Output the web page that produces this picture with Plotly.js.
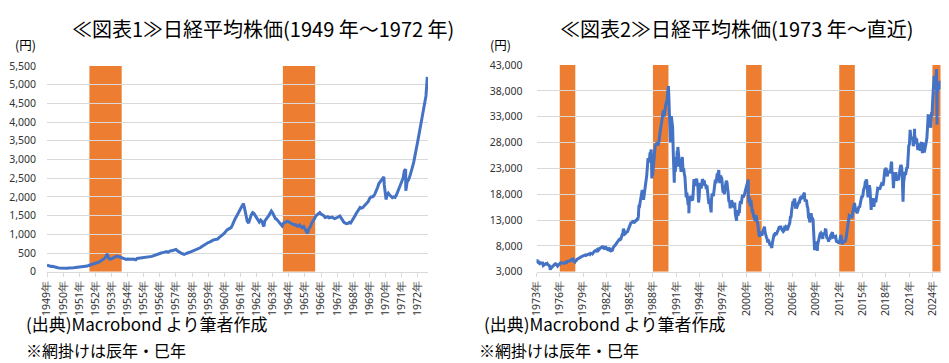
<!DOCTYPE html>
<html>
<head>
<meta charset="utf-8">
<script src="https://cdn.plot.ly/plotly-3.0.1.min.js"></script>
<style>
html,body{margin:0;padding:0;background:#fff;}
#chart{width:949px;height:363px;}
</style>
</head>
<body>
<div id="chart"></div>
<script>
// ===== Chart 1 : Nikkei 225 monthly, 1949-05 .. 1972-12 =====
const start1 = [1949, 5];
const nikkei1 = [
  176,165,145,140,145,130,115,109,                         // 1949 May-Dec
  105,100,96,94,93,97,88,94,98,97,98,101,                  // 1950
  108,115,118,120,125,127,128,138,148,155,150,166,         // 1951
  178,185,195,205,218,232,242,262,290,312,335,362,         // 1952
  420,455,350,335,345,360,375,395,415,405,390,377,         // 1953
  360,355,345,330,340,335,330,335,340,330,320,356,         // 1954
  360,365,360,365,370,375,380,390,395,400,410,425,         // 1955
  440,460,470,480,490,500,510,520,530,540,520,550,         // 1956
  560,560,575,585,595,560,530,510,490,480,465,475,         // 1957
  495,510,520,530,545,560,575,580,590,610,640,666,         // 1958
  690,710,740,770,780,790,800,830,850,860,865,874,         // 1959
  910,950,980,1000,1030,1080,1120,1140,1150,1180,1250,1356,// 1960
  1420,1480,1550,1600,1680,1750,1800,1700,1480,1350,1300,1432, // 1961
  1520,1580,1560,1500,1450,1400,1330,1380,1340,1230,1350,1420, // 1962
  1450,1500,1560,1620,1570,1500,1420,1400,1350,1310,1280,1225, // 1963
  1300,1320,1330,1350,1330,1310,1280,1270,1250,1260,1220,1216, // 1964
  1250,1200,1180,1210,1150,1100,1040,1160,1200,1300,1350,1417, // 1965
  1490,1520,1560,1580,1540,1520,1500,1450,1460,1470,1440,1452, // 1966
  1460,1440,1420,1430,1460,1470,1490,1420,1360,1320,1300,1283, // 1967
  1290,1320,1300,1350,1420,1480,1550,1620,1680,1720,1700,1714, // 1968
  1760,1800,1820,1870,1950,2000,2000,2020,2080,2150,2250,2359, // 1969
  2400,2450,2500,2320,1950,2050,2100,2050,2000,1980,2000,1987, // 1970
  2050,2150,2200,2300,2400,2500,2700,2300,2400,2450,2550,2714, // 1971
  2800,2950,3100,3300,3500,3700,3900,4200,4350,4500,4700,5207  // 1972
];
const extremeDates1 = ['1953-02-04','1953-03-30','1961-07-18','1962-10-29','1965-07-12','1970-04-06','1970-05-27','1971-08-13','1971-08-16'];
const extremeVals1  = [474,340,1829,1216,1020,2534,1929,2740,2162];

// ===== Chart 2 : Nikkei 225 monthly, 1973-01 .. 2025-01 =====
const start2 = [1973, 1];
const nikkei2 = [
  5000,4900,4800,4700,4800,4600,4700,4700,4600,4700,4200,4306,         // 1973
  4300,4400,4550,4500,4600,4400,4300,4100,4100,3700,3800,3817,         // 1974
  3950,4200,4400,4450,4500,4550,4300,4250,4100,4350,4300,4359,         // 1975
  4650,4800,4750,4700,4650,4750,4700,4650,4800,4700,4750,4990,         // 1976
  5000,5050,5050,5100,5200,5200,5350,5400,5450,5050,4900,4866,         // 1977
  5100,5150,5400,5500,5650,5600,5650,5800,5750,5900,5950,6001,         // 1978
  6200,6100,6150,6250,6150,6250,6200,6300,6400,6450,6350,6569,         // 1979
  6600,6550,6450,6700,6900,6950,7050,7100,7000,7250,7350,7116,         // 1980
  7200,7400,7550,7700,7750,7800,7700,8000,7350,7500,7700,7682,         // 1981
  7500,7500,7100,7250,7400,7200,7300,7050,7050,7150,7600,8017,         // 1982
  8000,8100,8300,8500,8700,8900,9200,9200,9300,9200,9300,9894,         // 1983
  10200,10400,11300,10900,10300,10400,10500,10800,10600,11000,11300,11543, // 1984
  11990,12300,12600,12400,12600,12900,12400,12700,12700,12900,12900,13113, // 1985
  13000,13700,15900,15800,16600,17600,17500,18800,17900,16900,17900,18701, // 1986
  20000,21000,21600,23300,25000,24200,24500,25900,26000,23300,22700,21564, // 1987
  23600,25000,26300,27400,27500,27800,28000,27400,27900,28300,29500,30159, // 1988
  31600,31900,32800,33700,34300,33000,34900,35000,35600,35500,37300,38916, // 1989
  37200,34600,29980,29600,33100,31900,31000,25980,20980,25200,22300,23849, // 1990
  23300,26400,26300,26100,25800,23300,23900,22300,23900,25200,22700,22984, // 1991
  22000,21300,19300,17400,18300,16000,15900,17600,17400,16800,17700,16925, // 1992
  17000,17000,18600,20900,20500,19600,20400,21000,20100,19700,16400,17417, // 1993
  20200,19100,19100,19700,20900,20600,20500,20600,19600,19900,19000,19723, // 1994
  18650,17050,16140,16800,15400,14500,16700,18100,17900,17650,18750,19868, // 1995
  20800,20100,21400,22000,21800,22500,20700,20200,21600,21000,21000,19361, // 1996
  18300,18600,18000,19200,20100,20600,20300,18200,17900,16500,16600,15259, // 1997
  16600,16800,16500,15700,15700,15800,16400,14100,13400,13600,14900,13842, // 1998
  14500,14400,16000,16700,16100,17500,17900,17400,17600,17900,18500,18934, // 1999
  19500,19900,20300,17970,16300,17400,15700,16900,15700,14500,14600,13786, // 2000
  13800,12900,13000,13900,13300,12970,11900,10700,9770,10370,10700,10543,  // 2001
  9990,10590,11020,11500,11700,10620,9880,9620,9380,8640,9220,8579,        // 2002
  8340,8360,7970,7830,8420,9080,9560,10340,10220,10560,10100,10677,        // 2003
  10780,11040,11720,11760,11240,11860,11330,11080,10820,10770,10900,11489, // 2004
  11390,11740,11670,11010,11280,11580,11900,12410,13570,13600,14870,16111, // 2005
  16650,16200,17060,16910,15470,15500,15460,16140,16130,16400,16270,17226, // 2006
  17380,17600,17290,17400,17880,18140,17250,16570,16790,16740,15680,15308, // 2007
  13590,13600,12530,13850,14340,13480,13380,13070,11260,8580,8510,8860,    // 2008
  7990,7570,8110,8830,9520,9960,10360,10490,10130,10030,9350,10546,        // 2009
  10200,10130,11090,11060,9770,9380,9540,8820,9370,9200,9940,10229,        // 2010
  10240,10620,9760,9850,9690,9820,9830,8960,8700,8990,8430,8455,           // 2011
  8800,9720,10080,9520,8540,9010,8700,8840,8870,8930,9450,10395,           // 2012
  11140,11560,12400,13860,13770,13680,13670,13390,14460,14330,15660,16291, // 2013
  14910,14840,14830,14300,14630,15160,15620,15420,16170,16410,17460,17451, // 2014
  17670,18800,19210,19520,20560,20240,20590,18890,17390,19080,19750,19034, // 2015
  17520,16030,16760,16670,17230,15580,16570,16890,16450,17430,18310,19114, // 2016
  19040,19120,18910,19200,19650,20030,19930,19650,20360,22010,22720,22765, // 2017
  23100,22070,21450,22470,22200,22300,22550,22870,24120,21920,22350,20015, // 2018
  20770,21390,21210,22260,20600,21280,21520,20700,21760,22930,23290,23657, // 2019
  23200,21140,18920,20190,21880,22290,21710,23140,23190,22980,26430,27444, // 2020
  27660,28970,29180,28810,28860,28790,27280,28090,29450,28890,27820,28792, // 2021
  27000,26530,27820,26850,27280,26390,27800,28090,25940,27590,27970,26095, // 2022
  27330,27450,28040,28860,30890,33190,33170,32620,31860,30860,33490,33464, // 2023
  36290,39170,40370,38410,38490,39580,39100,38650,37920,39080,38210,39895, // 2024
  39570                                                                    // 2025 Jan
];
const extremeDates2 = ['1973-01-24','1974-10-09','1987-10-14','1987-11-11','1989-12-29','1990-04-02','1990-10-01','1991-03-18','1992-08-18','1995-07-03','1996-06-26','1998-10-09','2000-04-12','2003-04-28','2007-07-09','2008-10-27','2009-03-10','2012-06-04','2015-06-24','2016-02-12','2018-10-02','2018-12-25','2020-03-19','2021-02-16','2021-09-14','2024-03-22','2024-07-11','2024-08-05'];
const extremeVals2  = [5359,3355,26646,21037,38916,28002,20222,27147,14309,14485,22666,12880,20833,7607,18262,7162,7054,8295,20868,14953,24270,19155,16553,30467,30670,40888,42224,31458];

// Highlighted years (辰年・巳年 pairs)
const shade1 = [['1952-01-01','1954-01-01'],['1964-01-01','1966-01-01']];
const shade2 = [['1976-01-01','1978-01-01'],['1988-01-01','1990-01-01'],['2000-01-01','2002-01-01'],['2012-01-01','2014-01-01'],['2024-01-01','2026-01-01']];

// Text
const title1 = '≪図表1≫日経平均株価(1949 年～1972 年)';
const title2 = '≪図表2≫日経平均株価(1973 年～直近)';
const unitLabel = '(円)';
const source = '(出典)Macrobond より筆者作成';
const note = '※網掛けは辰年・巳年';

function pad(n){return (n<10?'0':'')+n;}
function buildSeries(start, vals, exD, exV){
  const pts = [];
  let y = start[0], m = start[1];
  for (let i=0;i<vals.length;i++){
    pts.push([y+'-'+pad(m)+'-15', vals[i]]);
    m++; if (m>12){m=1;y++;}
  }
  for (let i=0;i<exD.length;i++) pts.push([exD[i], exV[i]]);
  pts.sort((a,b)=> a[0]<b[0]?-1:(a[0]>b[0]?1:0));
  return {x:pts.map(p=>p[0]), y:pts.map(p=>p[1])};
}
const s1 = buildSeries(start1, nikkei1, extremeDates1, extremeVals1);
const s2 = buildSeries(start2, nikkei2, extremeDates2, extremeVals2);

const W=949, H=363;
const BLUE='#4472C4', ORANGE='#ED7D31', GRID='#D9D9D9', TICKC='#333333';
const jp = '"Noto Sans CJK JP", "Noto Sans", sans-serif';
const tickFont = {family:'"Liberation Sans Narrow", "Noto Sans", sans-serif', size:10.5, color:TICKC};

const traces = [
  {x:s1.x, y:s1.y, xaxis:'x', yaxis:'y', type:'scatter', mode:'lines', line:{color:BLUE, width:3}, hoverinfo:'x+y'},
  {x:s2.x, y:s2.y, xaxis:'x2', yaxis:'y2', type:'scatter', mode:'lines', line:{color:BLUE, width:3}, hoverinfo:'x+y'}
];

const shapes = [];
shade1.forEach(s=>shapes.push({type:'rect', xref:'x', yref:'y', x0:s[0], x1:s[1], y0:0, y1:5500, fillcolor:ORANGE, line:{width:0}, layer:'below'}));
shade2.forEach(s=>shapes.push({type:'rect', xref:'x2', yref:'y2', x0:s[0], x1:s[1], y0:3000, y1:43000, fillcolor:ORANGE, line:{width:0}, layer:'below'}));

function px(x){return x/W;}
function py(y){return 1-y/H;}

const annotations = [
  {text:title1, x:px(263), y:py(28), xref:'paper', yref:'paper', showarrow:false, xanchor:'center', yanchor:'middle', font:{family:jp, size:20, color:'#000'}},
  {text:title2, x:px(737), y:py(28), xref:'paper', yref:'paper', showarrow:false, xanchor:'center', yanchor:'middle', font:{family:jp, size:20, color:'#000'}},
  {text:unitLabel, x:px(13), y:py(44), xref:'paper', yref:'paper', showarrow:false, xanchor:'left', yanchor:'middle', font:{family:jp, size:12.5, color:'#000'}},
  {text:unitLabel, x:px(488), y:py(44), xref:'paper', yref:'paper', showarrow:false, xanchor:'left', yanchor:'middle', font:{family:jp, size:12.5, color:'#000'}},
  {text:source, x:px(24), y:py(323), xref:'paper', yref:'paper', showarrow:false, xanchor:'left', yanchor:'middle', font:{family:jp, size:17, color:'#000'}},
  {text:note, x:px(24), y:py(350), xref:'paper', yref:'paper', showarrow:false, xanchor:'left', yanchor:'middle', font:{family:jp, size:16, color:'#000'}},
  {text:source, x:px(482), y:py(323), xref:'paper', yref:'paper', showarrow:false, xanchor:'left', yanchor:'middle', font:{family:jp, size:17, color:'#000'}},
  {text:note, x:px(477), y:py(350), xref:'paper', yref:'paper', showarrow:false, xanchor:'left', yanchor:'middle', font:{family:jp, size:16, color:'#000'}}
];

const xCommon = {type:'date', showgrid:false, zeroline:false, showline:true, linecolor:GRID, linewidth:1,
  ticks:'outside', ticklen:4, tickcolor:GRID, tickangle:-90, tickfont:tickFont, fixedrange:true};
const yCommon = {showgrid:true, gridcolor:GRID, gridwidth:1, zeroline:false, showline:false, ticks:'',
  tickformat:',d', tickfont:tickFont, ticklabelstandoff:10, fixedrange:true};

const layout = {
  width:W, height:H, margin:{l:0,r:0,t:0,b:0}, paper_bgcolor:'#fff', plot_bgcolor:'#fff',
  showlegend:false,
  xaxis: Object.assign({}, xCommon, {domain:[px(47), px(428)], range:['1949-05-15','1972-12-31'],
    tick0:'1949-05-15', dtick:'M12', tickformat:'%Y年', anchor:'y'}),
  yaxis: Object.assign({}, yCommon, {domain:[py(271.7), py(66)], range:[0,5500], dtick:500, tick0:0, anchor:'x'}),
  xaxis2: Object.assign({}, xCommon, {domain:[px(536.5), px(940.5)], range:['1973-01-01','2025-01-15'],
    tick0:'1973-01-01', dtick:'M36', tickformat:'%Y年', anchor:'y2'}),
  yaxis2: Object.assign({}, yCommon, {domain:[py(271.7), py(65)], range:[3000,43000], dtick:5000, tick0:3000, anchor:'x2', ticklabelstandoff:13}),
  shapes:shapes, annotations:annotations
};

Plotly.newPlot('chart', traces, layout, {displayModeBar:false, staticPlot:true});
</script>
</body>
</html>
